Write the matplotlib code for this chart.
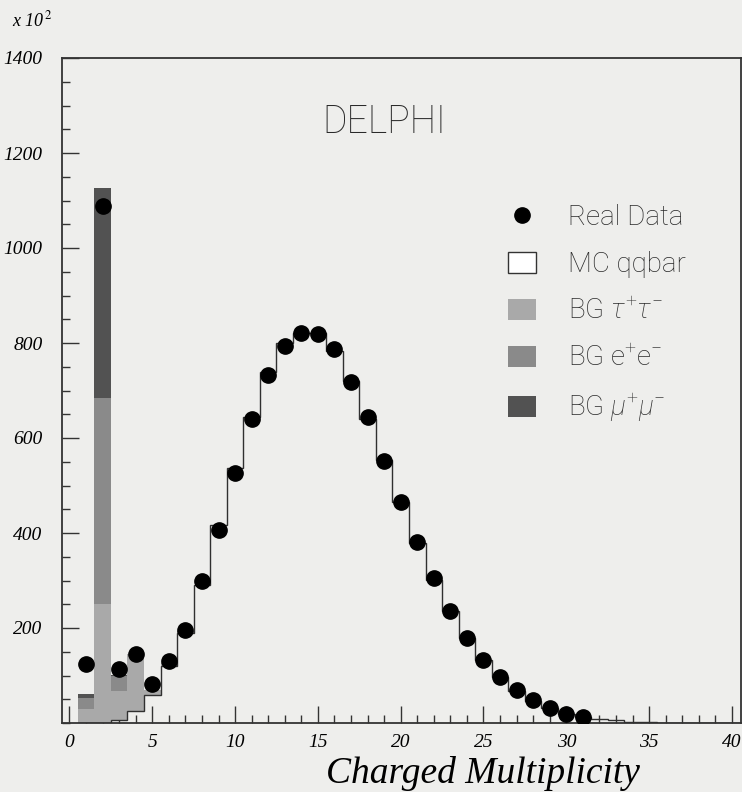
import numpy as np
import matplotlib
matplotlib.use("Agg")
import matplotlib.pyplot as plt
from matplotlib.lines import Line2D
from matplotlib.patches import Patch
from matplotlib.ticker import MultipleLocator

# ---------------- data (units of 10^2 events) ----------------
multiplicity = list(range(1, 41))
mc_qqbar = [0, 1, 6, 25, 60, 119, 190, 290, 417, 536, 645, 740, 799, 822, 822,
            784, 719, 641, 554, 466, 380, 302, 236, 178, 132, 96, 68, 47, 31, 20,
            13, 9, 6, 3, 2, 1, 1, 0.5, 0, 0]
bg_tautau = [29, 250, 61, 121, 10, 8, 3] + [0] * 33
bg_ee = [23, 433, 31, 0, 0, 0, 0] + [0] * 33
bg_mumu = [10, 442, 3, 0, 0, 0, 0] + [0] * 33

data_x = list(range(1, 32))
data_y = [125, 1088, 114, 145, 82, 131, 195, 298, 406, 526, 639, 733, 794, 822,
          820, 787, 718, 644, 552, 466, 381, 305, 236, 178, 133, 96, 69, 48, 31,
          20, 13]

x_ticks = [0, 5, 10, 15, 20, 25, 30, 35, 40]
y_ticks = [200, 400, 600, 800, 1000, 1200, 1400]

plt.rcParams["mathtext.fontset"] = "custom"
plt.rcParams["mathtext.it"] = "Roboto:italic:light"
plt.rcParams["mathtext.rm"] = "Roboto:light"

# ---------------- figure ----------------
W, H = 742, 792
paper = "#eeeeec"
fig = plt.figure(figsize=(W / 100, H / 100), dpi=100, facecolor=paper)
ax = fig.add_axes([62 / W, 1 - 723 / H, 679 / W, 665 / H], facecolor=paper)

c_tau, c_ee, c_mu = "#a9a9a9", "#8a8a8a", "#525252"

x = np.array(multiplicity, dtype=float)
q = np.array(mc_qqbar, dtype=float)
t = np.array(bg_tautau, dtype=float)
e = np.array(bg_ee, dtype=float)
m = np.array(bg_mumu, dtype=float)

ax.bar(x, t, width=1.0, bottom=q, color=c_tau, linewidth=0, zorder=2)
ax.bar(x, e, width=1.0, bottom=q + t, color=c_ee, linewidth=0, zorder=2)
ax.bar(x, m, width=1.0, bottom=q + t + e, color=c_mu, linewidth=0, zorder=2)

edges = np.append(x - 0.5, x[-1] + 0.5)
ax.stairs(q, edges, color="#303030", linewidth=1.0, baseline=None, zorder=3)

ax.plot(data_x, data_y, "o", color="black", markersize=11, zorder=4)

ax.set_xlim(-0.45, 40.55)
ax.set_ylim(0, 1400)

ax.set_xticks(x_ticks)
ax.set_yticks(y_ticks)
ax.xaxis.set_minor_locator(MultipleLocator(1))
ax.yaxis.set_minor_locator(MultipleLocator(50))
ax.tick_params(which="major", direction="in", length=12, width=1.0, color="#333333")
ax.tick_params(which="minor", direction="in", length=6, width=1.0, color="#333333")
ax.tick_params(axis="x", which="both", pad=8)
ax.tick_params(axis="y", which="both", pad=14)

tick_font = dict(family="Liberation Serif", style="italic", size=14)
ax.set_xticklabels([str(v) for v in x_ticks], fontdict=tick_font)
ax.set_yticklabels([str(v) for v in y_ticks], fontdict=tick_font)

for s in ax.spines.values():
    s.set_color("#333333")
    s.set_linewidth(1.3)

fig.text(12 / W, 1 - 26 / H, r"x 10$^{\,2}$", family="Liberation Serif",
         style="italic", size=13, ha="left", va="baseline",
         math_fontfamily="stix")

fig.text(384 / W, 1 - 122 / H, "DELPHI", family="Roboto", weight="light",
         size=27, ha="center", va="center", color="#2a2a2a")

fig.text(483 / W, 1 - 783 / H, "Charged Multiplicity", family="Liberation Serif",
         style="italic", size=27, ha="center", va="baseline")

handles = [
    Line2D([], [], marker="o", linestyle="none", color="black", markersize=11),
    Patch(facecolor="white", edgecolor="#333333", linewidth=1.0),
    Patch(facecolor=c_tau, edgecolor="none"),
    Patch(facecolor=c_ee, edgecolor="none"),
    Patch(facecolor=c_mu, edgecolor="none"),
]
labels = ["Real Data", "MC qqbar", r"BG $\tau^{+}\tau^{-}$",
          r"BG e$^{+}$e$^{-}$", r"BG $\mu^{+}\mu^{-}$"]
leg = ax.legend(handles, labels, loc="upper left",
                bbox_to_anchor=((508 - 62) / 679, (723 - 204) / 665),
                frameon=False, borderpad=0, borderaxespad=0,
                handlelength=1.0, handleheight=0.8, handletextpad=1.15,
                labelspacing=0.72,
                prop=dict(family="Roboto", weight="light", size=20))
for txt in leg.get_texts():
    txt.set_color("#2a2a2a")

fig.savefig("out.png", dpi=100, facecolor=paper)
